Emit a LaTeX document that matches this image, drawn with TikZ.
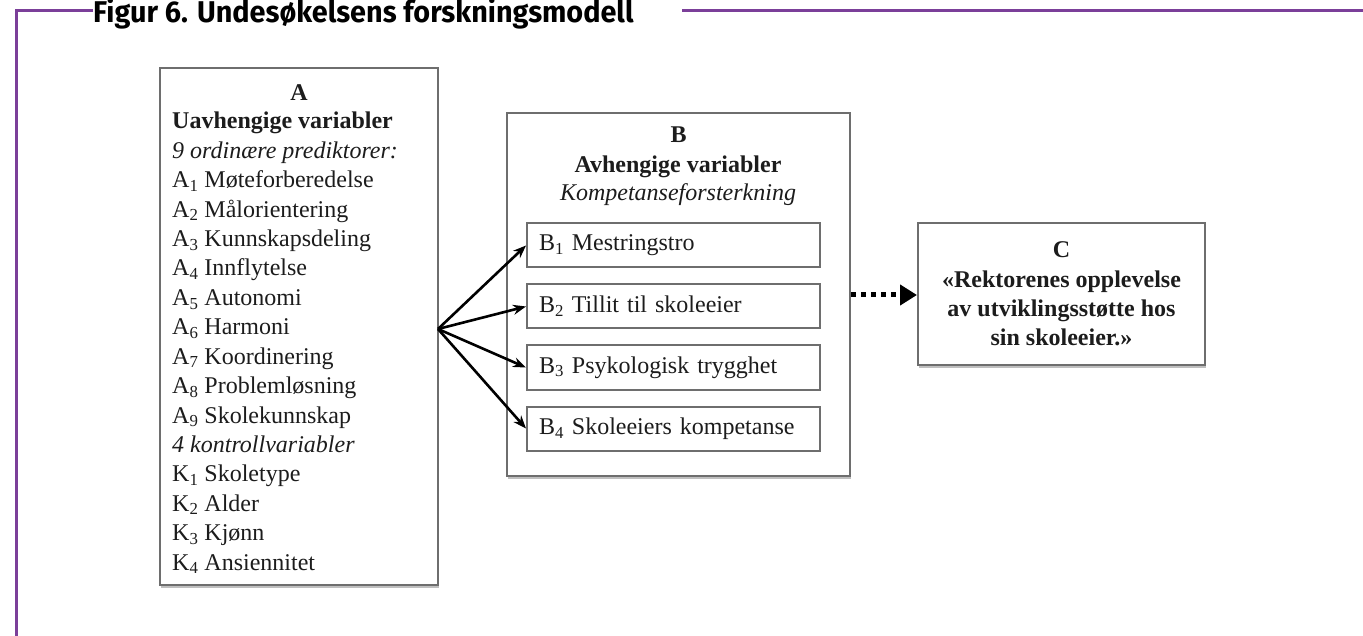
\documentclass[tikz,border=0pt]{standalone}
\usepackage{fontspec}
\setmainfont{Liberation Serif}
\newfontfamily\titlefont{Fira Sans}
\usetikzlibrary{arrows.meta,shadows}
\definecolor{framecol}{HTML}{7B3F99}
\definecolor{boxgray}{HTML}{6E6E6E}
\definecolor{ink}{HTML}{1C1C1C}
\begin{document}
\begin{tikzpicture}[x=1pt,y=-1pt,
  every node/.style={text=ink,font=\fontsize{24}{29.4}\selectfont},
  box/.style={draw=boxgray,line width=2pt,fill=white,inner sep=0pt,
    drop shadow={shadow xshift=1pt,shadow yshift=-2.5pt,fill=black,opacity=0.25}},
  itembox/.style={draw=boxgray,line width=2pt,fill=white,minimum width=293pt,
    minimum height=44pt,inner xsep=12pt,text width=269pt,align=left},
  line/.style={anchor=base west,inner sep=0pt},
  fanarrow/.style={draw=black,line width=2.6pt,-{Stealth[length=13pt,width=10pt]}},
  framestroke/.style={draw=framecol,line width=3pt}]
\useasboundingbox (0,0) rectangle (1363,636);
\fill[white] (0,0) rectangle (1363,636);

% frame and title
\node[anchor=base west,inner sep=0pt,font=\titlefont\bfseries\fontsize{30}{30}\selectfont,text=black]
  (title) at (93,22.5) {\scalebox{0.96}[1]{Figur 6. Undesøkelsens forskningsmodell}};
\coordinate (fl) at (16,640);
\coordinate (ftl) at (16,11);
\coordinate (ftr) at (1366,11);
\draw[framestroke] (title.west |- ftl) -- (ftl) -- (fl);
\draw[framestroke] (682,11) -- (ftr);

% box A
\node[box,minimum width=278pt,minimum height=517pt] (A) at (299,326.5) {};
\node[anchor=base,inner sep=0pt,font=\fontsize{24}{29.4}\selectfont\bfseries] (Ah) at (299,101) {A};
\foreach \t [count=\i] in {
  \textbf{Uavhengige variabler},
  \textit{9 ordinære prediktorer:},
  A\textsubscript{1} Møteforberedelse,
  A\textsubscript{2} Målorientering,
  A\textsubscript{3} Kunnskapsdeling,
  A\textsubscript{4} Innflytelse,
  A\textsubscript{5} Autonomi,
  A\textsubscript{6} Harmoni,
  A\textsubscript{7} Koordinering,
  A\textsubscript{8} Problemløsning,
  A\textsubscript{9} Skolekunnskap,
  \textit{4 kontrollvariabler},
  K\textsubscript{1} Skoletype,
  K\textsubscript{2} Alder,
  K\textsubscript{3} Kjønn,
  K\textsubscript{4} Ansiennitet}
  \node[line] (a\i) at (172,{129+29.4*(\i-1)}) {\t};

% box B
\node[box,minimum width=343pt,minimum height=363pt] (B) at (678.5,294.5) {};
\node[anchor=base,inner sep=0pt,font=\fontsize{24}{29.4}\selectfont\bfseries] (Bh) at (678.5,143) {B};
\node[anchor=base,inner sep=0pt,font=\fontsize{24}{29.4}\selectfont\bfseries] (Bt) at (678,173) {Avhengige variabler};
\node[anchor=base,inner sep=0pt,font=\fontsize{24}{29.4}\selectfont\itshape] (Bs) at (678,201) {Kompetanseforsterkning};
\node[itembox] (b1) at (673.5,245.5) {B\textsubscript{1} Mestringstro};
\node[itembox] (b2) at (673.5,306.5) {B\textsubscript{2} Tillit til skoleeier};
\node[itembox] (b3) at (673.5,367.5) {B\textsubscript{3} Psykologisk trygghet};
\node[itembox] (b4) at (673.5,428.5) {B\textsubscript{4} Skoleeiers kompetanse};

% box C
\node[box,minimum width=287pt,minimum height=142pt,align=center,
  font=\fontsize{24}{29.4}\selectfont\bfseries] (C) at (1061.5,294)
  {C\\«Rektorenes opplevelse\\av utviklingsstøtte hos\\sin skoleeier.»};

% connectors
\coordinate (fan) at (438,329);
\foreach \k in {1,2,3,4}
  \draw[fanarrow] (fan) -- (b\k.west);
\draw[line width=5pt,dash pattern=on 5pt off 5pt,-{Triangle[length=17pt,width=20pt]}]
  (B.east |- 0,295) -- (C.west |- 0,295);
\end{tikzpicture}
\end{document}
